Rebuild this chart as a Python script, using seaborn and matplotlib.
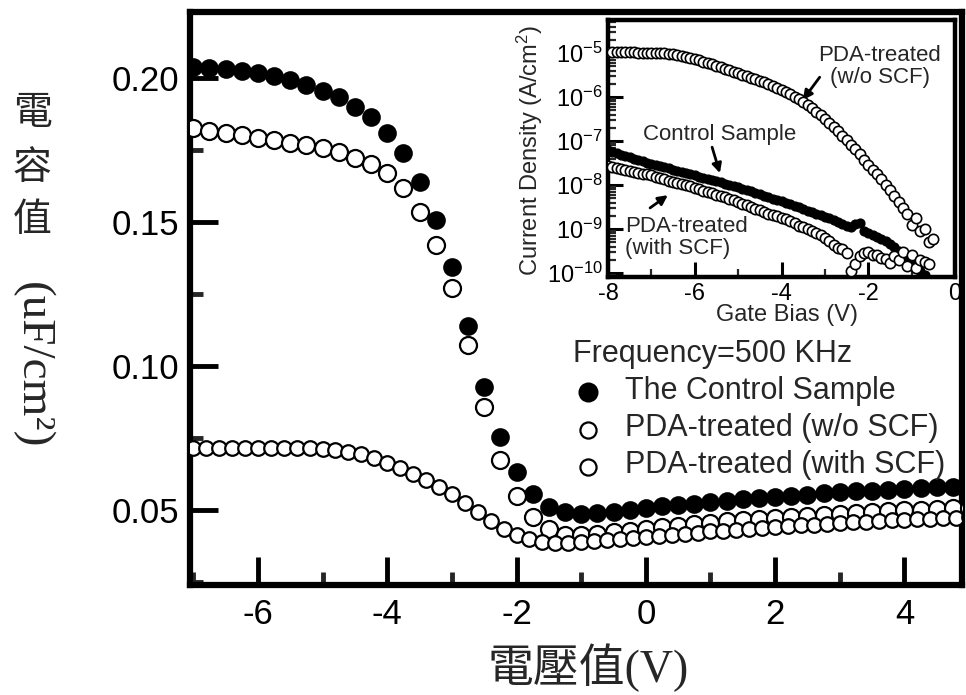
import numpy as np
import matplotlib
matplotlib.use("Agg")
import matplotlib.pyplot as plt
import seaborn as sns
from matplotlib.ticker import MultipleLocator, FormatStrFormatter, LogLocator, NullFormatter

# ---------------- main C-V data (500 kHz) ----------------
bias_main = np.round(np.arange(-7.0, 5.001, 0.25), 2)          # control & w/o SCF sweep
bias_scf = np.round(np.arange(-7.0, 5.001, 0.2), 2)            # with SCF sweep

cap_control = [0.2038, 0.2035, 0.2031, 0.2024, 0.2017, 0.2007, 0.1993, 0.1976, 0.1955, 0.1934,
               0.1899, 0.1865, 0.1809, 0.1740, 0.1639, 0.1507, 0.1344, 0.1139, 0.0927, 0.0753,
               0.0632, 0.0556, 0.0510, 0.0493, 0.0485, 0.0489, 0.0495, 0.0501, 0.0508, 0.0513,
               0.0518, 0.0522, 0.0527, 0.0532, 0.0537, 0.0541, 0.0546, 0.0550, 0.0554, 0.0558,
               0.0562, 0.0565, 0.0568, 0.0571, 0.0574, 0.0577, 0.0579, 0.0581, 0.0583]
cap_wo_scf = [0.1826, 0.1816, 0.1809, 0.1802, 0.1792, 0.1785, 0.1774, 0.1767, 0.1757, 0.1743,
              0.1722, 0.1701, 0.1670, 0.1618, 0.1535, 0.1420, 0.1271, 0.1073, 0.0858, 0.0674,
              0.0549, 0.0476, 0.0434, 0.0413, 0.0414, 0.0418, 0.0423, 0.0429, 0.0435, 0.0441,
              0.0446, 0.0451, 0.0456, 0.0461, 0.0465, 0.0469, 0.0473, 0.0477, 0.0481, 0.0484,
              0.0487, 0.0490, 0.0493, 0.0496, 0.0499, 0.0502, 0.0504, 0.0506, 0.0508]
cap_with_scf = [0.0716, 0.0716, 0.0716, 0.0716, 0.0716, 0.0716, 0.0716, 0.0715, 0.0715, 0.0714,
                0.0712, 0.0708, 0.0700, 0.0693, 0.0680, 0.0664, 0.0645, 0.0627, 0.0604, 0.0581,
                0.0556, 0.0525, 0.0494, 0.0463, 0.0436, 0.0413, 0.0398, 0.0390, 0.0386, 0.0387,
                0.0389, 0.0392, 0.0395, 0.0398, 0.0402, 0.0406, 0.0410, 0.0414, 0.0418, 0.0422,
                0.0426, 0.0429, 0.0432, 0.0435, 0.0438, 0.0441, 0.0444, 0.0447, 0.0450, 0.0452,
                0.0455, 0.0457, 0.0460, 0.0462, 0.0464, 0.0466, 0.0468, 0.0470, 0.0472, 0.0474,
                0.0476]

# ---------------- inset J-V data (log10 of A/cm^2) ----------------
gate_wo = np.round(np.arange(-8.0, -0.499, 0.1), 2)
logj_wo = [-4.97, -4.97, -4.97, -4.97, -4.98, -4.98, -4.98, -4.99, -4.99, -4.99,
           -5.00, -5.00, -5.01, -5.01, -5.02, -5.03, -5.04, -5.06, -5.08, -5.11,
           -5.14, -5.17, -5.20, -5.23, -5.26, -5.29, -5.32, -5.36, -5.39, -5.43,
           -5.46, -5.50, -5.53, -5.57, -5.60, -5.64, -5.67, -5.71, -5.75, -5.79,
           -5.84, -5.89, -5.94, -5.99, -6.05, -6.11, -6.18, -6.25, -6.33, -6.41,
           -6.50, -6.59, -6.68, -6.78, -6.88, -6.98, -7.08, -7.19, -7.30, -7.42,
           -7.54, -7.65, -7.76, -7.87, -7.99, -8.12, -8.25, -8.38, -8.52, -8.66,
           -8.90, -8.75, -9.05, -9.00, -9.30, -9.22]
gate_ctrl = np.round(np.arange(-8.0, -0.699, 0.1), 2)
logj_ctrl = [-7.20, -7.25, -7.28, -7.31, -7.34, -7.37, -7.40, -7.43, -7.46, -7.49,
             -7.52, -7.55, -7.57, -7.60, -7.62, -7.65, -7.67, -7.70, -7.72, -7.75,
             -7.78, -7.81, -7.83, -7.86, -7.89, -7.91, -7.94, -7.97, -7.99, -8.02,
             -8.05, -8.08, -8.11, -8.14, -8.17, -8.20, -8.24, -8.27, -8.31, -8.34,
             -8.37, -8.41, -8.44, -8.48, -8.51, -8.55, -8.58, -8.62, -8.65, -8.69,
             -8.72, -8.76, -8.80, -8.84, -8.88, -8.92, -8.96, -8.88, -8.87, -9.05,
             -9.09, -9.13, -9.18, -9.23, -9.28, -9.33, -9.40, -9.50, -9.62, -9.72,
             -9.80, -9.86, -9.95, -10.05]
gate_scf = np.round(np.arange(-8.0, -0.599, 0.1), 2)
logj_scf = [-7.56, -7.59, -7.62, -7.64, -7.66, -7.68, -7.70, -7.72, -7.74, -7.76,
            -7.78, -7.81, -7.84, -7.87, -7.90, -7.92, -7.95, -7.97, -8.00, -8.03,
            -8.06, -8.10, -8.13, -8.16, -8.19, -8.22, -8.25, -8.28, -8.31, -8.34,
            -8.38, -8.42, -8.46, -8.50, -8.54, -8.57, -8.61, -8.65, -8.68, -8.71,
            -8.74, -8.78, -8.82, -8.87, -8.92, -8.96, -9.00, -9.04, -9.09, -9.14,
            -9.20, -9.28, -9.36, -9.42, -9.45, -9.55, -9.95, -9.80, -9.62, -9.55,
            -9.52, -9.58, -9.60, -9.65, -9.68, -9.78, -9.62, -9.70, -9.52, -9.85,
            -9.60, -9.88, -9.70, -9.75, -9.80]

labels = ["The Control Sample", "PDA-treated (w/o SCF)", "PDA-treated (with SCF)"]
legend_title = "Frequency=500 KHz"

# ---------------- style ----------------
sns.set_theme(style="ticks")
plt.rcParams["font.family"] = ["Liberation Sans", "Noto Sans CJK TC"]
plt.rcParams["mathtext.default"] = "regular"
plt.rcParams["axes.unicode_minus"] = False

fig = plt.figure(figsize=(9.66, 6.95), dpi=100)
fig.patch.set_facecolor("white")
ax = fig.add_axes([190 / 966, 1 - 585 / 695, 772 / 966, 573 / 695])
ax.set_facecolor("white")

sns.scatterplot(x=bias_main, y=cap_control, ax=ax, s=150, marker="o", color="black",
                edgecolor="black", linewidth=1.2, label=labels[0], zorder=3)
sns.scatterplot(x=bias_main, y=cap_wo_scf, ax=ax, s=150, marker="o", color="white",
                edgecolor="black", linewidth=1.6, label=labels[1], zorder=4)
sns.scatterplot(x=bias_scf, y=cap_with_scf, ax=ax, s=110, marker="o", color="white",
                edgecolor="black", linewidth=1.6, label=labels[2], zorder=5)

ax.set_xlim(-7.05, 4.89)
ax.set_ylim(0.024, 0.2229)
ax.xaxis.set_major_locator(MultipleLocator(2))
ax.xaxis.set_minor_locator(MultipleLocator(1))
ax.yaxis.set_major_locator(MultipleLocator(0.05))
ax.yaxis.set_minor_locator(MultipleLocator(0.025))
ax.yaxis.set_major_formatter(FormatStrFormatter("%.2f"))
ax.tick_params(which="major", direction="in", length=20, width=3.5, labelsize=25,
               color="black", labelcolor="black", top=False, right=False)
ax.tick_params(which="minor", direction="in", length=9.5, width=3.5, top=False, right=False)
ax.tick_params(axis="y", which="major", pad=8)
ax.tick_params(axis="x", which="major", pad=9)
for sp in ax.spines.values():
    sp.set_visible(True)
    sp.set_linewidth(4.5)
    sp.set_color("black")
ax.set_xlabel("")
ax.set_ylabel("")

leg = ax.legend(title=legend_title, loc="upper left", bbox_to_anchor=(573 / 966, 1 - 339 / 695),
                bbox_transform=fig.transFigure, frameon=False, fontsize=22, title_fontsize=22,
                handlelength=1.0, handletextpad=0.7, labelspacing=0.23, borderpad=0,
                alignment="left", borderaxespad=0, handleheight=0.5)
for h, sz in zip(leg.legend_handles, [175, 135, 135]):
    h.set_sizes([sz])

# axis titles (Chinese)
fig.text(588 / 966, 1 - 668 / 695, "電壓值(V)", fontsize=33,
         family=["Liberation Serif", "Noto Sans CJK TC"], ha="center", va="center")
for ch, yy in zip(["電", "容", "值"], [113, 168, 220]):
    fig.text(32 / 966, 1 - yy / 695, ch, fontsize=28, family=["Noto Sans CJK TC"],
             ha="center", va="center")
fig.text(32 / 966, 1 - 365 / 695, "(uF/cm²)", fontsize=34, rotation=-90,
         rotation_mode="anchor", family=["Liberation Serif"], ha="center", va="center")

# ---------------- inset ----------------
ax_in = fig.add_axes([608 / 966, 1 - 277 / 695, 347 / 966, 257 / 695])
ax_in.set_facecolor("white")
ax_in.set_yscale("log")
sns.scatterplot(x=gate_ctrl, y=np.power(10.0, logj_ctrl), ax=ax_in, s=40, marker="o",
                color="black", edgecolor="black", linewidth=1.0, zorder=3, legend=False)
sns.scatterplot(x=gate_wo, y=np.power(10.0, logj_wo), ax=ax_in, s=55, marker="o",
                color="white", edgecolor="black", linewidth=1.2, zorder=4, legend=False)
sns.scatterplot(x=gate_scf, y=np.power(10.0, logj_scf), ax=ax_in, s=55, marker="o",
                color="white", edgecolor="black", linewidth=1.2, zorder=5, legend=False)
ax_in.set_xlim(-8, 0)
ax_in.set_ylim(10 ** -10.09, 10 ** -4.25)
ax_in.xaxis.set_major_locator(MultipleLocator(2))
ax_in.xaxis.set_minor_locator(MultipleLocator(1))
ax_in.yaxis.set_major_locator(LogLocator(base=10, numticks=12))
ax_in.yaxis.set_minor_locator(LogLocator(base=10, subs=np.arange(2, 10), numticks=12))
ax_in.yaxis.set_minor_formatter(NullFormatter())
ax_in.tick_params(which="major", direction="in", length=11, width=2.2, labelsize=17,
                  pad=4, top=False, right=False, color="black", labelcolor="black")
ax_in.tick_params(which="minor", direction="in", length=6, width=1.6, top=False, right=False)
for sp in ax_in.spines.values():
    sp.set_visible(True)
    sp.set_linewidth(3.2)
    sp.set_color("black")
ax_in.set_xlabel("Gate Bias (V)", fontsize=17, va="center")
ax_in.xaxis.set_label_coords(0.516, -0.148)
ax_in.set_ylabel("Current Density (A/cm$^2$)", fontsize=17, va="center")
ax_in.yaxis.set_label_coords(-0.225, 0.494)

# inset annotations
ax_in.text(-1.73, 10 ** -5.30, "PDA-treated\n(w/o SCF)", fontsize=16, ha="center",
           va="center", linespacing=1.05)
ax_in.annotate("", xy=(-3.51, 10 ** -6.07), xytext=(-3.12, 10 ** -5.55),
               arrowprops=dict(arrowstyle="-|>", color="black", lw=2, mutation_scale=14,
                               shrinkA=0, shrinkB=0))
ax_in.text(-5.42, 10 ** -6.86, "Control Sample", fontsize=16, ha="center", va="center")
ax_in.annotate("", xy=(-5.42, 10 ** -7.73), xytext=(-5.60, 10 ** -7.14),
               arrowprops=dict(arrowstyle="-|>", color="black", lw=2, mutation_scale=14,
                               shrinkA=0, shrinkB=0))
ax_in.text(-7.61, 10 ** -9.20, "PDA-treated\n(with SCF)", fontsize=16, ha="left",
           va="center", linespacing=1.05)
ax_in.annotate("", xy=(-6.62, 10 ** -8.23), xytext=(-7.03, 10 ** -8.52),
               arrowprops=dict(arrowstyle="-|>", color="black", lw=2, mutation_scale=14,
                               shrinkA=0, shrinkB=0))

fig.savefig("out.png", dpi=100, facecolor="white")
